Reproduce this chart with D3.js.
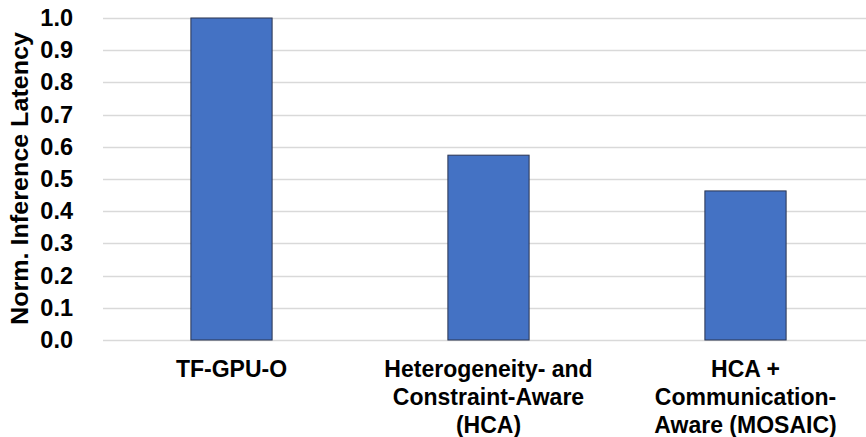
<!DOCTYPE html>
<html>
<head>
<meta charset="utf-8">
<script src="https://cdn.jsdelivr.net/npm/d3@7"></script>
<style>
  html, body { margin: 0; padding: 0; background: #ffffff; }
  svg { display: block; font-family: "Liberation Sans", Arial, sans-serif; }
</style>
</head>
<body>
<svg id="chart" width="866" height="437"></svg>
<script>
// Approach labels (each entry is a list of wrapped lines)
const categories = [
  ["TF-GPU-O"],
  ["Heterogeneity- and", "Constraint-Aware", "(HCA)"],
  ["HCA +", "Communication-", "Aware (MOSAIC)"]
];
const categoryKeys = ["TF-GPU-O", "HCA", "MOSAIC"];
// Normalized inference latency per approach
const latency = [1.0, 0.574, 0.463];
const yTicks = [0, 0.1, 0.2, 0.3, 0.4, 0.5, 0.6, 0.7, 0.8, 0.9, 1.0];
const yTitle = "Norm. Inference Latency";

const svg = d3.select("#chart");
const plot = { left: 103, right: 874, top: 18, bottom: 340 };

const x = d3.scaleBand().domain(categoryKeys).range([plot.left, plot.right]).padding(0);
const y = d3.scaleLinear().domain([0, 1]).range([plot.bottom, plot.top]);
const barW = x.bandwidth() * 0.316;

// Horizontal gridlines
svg.append("g")
  .selectAll("line")
  .data(yTicks)
  .join("line")
  .attr("x1", plot.left)
  .attr("x2", 866)
  .attr("y1", d => Math.round(y(d)) + 0.5)
  .attr("y2", d => Math.round(y(d)) + 0.5)
  .attr("stroke", "#d9d9d9")
  .attr("stroke-width", 1.3);

// Y axis tick labels
const yAxis = svg.append("g")
  .attr("transform", `translate(${plot.left},0)`)
  .call(d3.axisLeft(y).tickValues(yTicks).tickFormat(d3.format(".1f")).tickSize(0).tickPadding(30));
yAxis.select(".domain").remove();
yAxis.selectAll("text")
  .attr("font-family", "Liberation Sans, Arial, sans-serif")
  .attr("font-size", 23.5)
  .attr("font-weight", "bold")
  .attr("fill", "#000");

// Bars
svg.append("g")
  .selectAll("rect")
  .data(latency)
  .join("rect")
  .attr("x", (d, i) => x(categoryKeys[i]) + x.bandwidth() / 2 - barW / 2)
  .attr("y", d => y(d))
  .attr("width", barW)
  .attr("height", d => y(0) - y(d))
  .attr("fill", "#4472c4")
  .attr("stroke", "#2b3550")
  .attr("stroke-width", 1);

// Category labels
const xl = svg.append("g");
categories.forEach((lines, i) => {
  const t = xl.append("text")
    .attr("x", x(categoryKeys[i]) + x.bandwidth() / 2)
    .attr("y", 377)
    .attr("text-anchor", "middle")
    .attr("font-size", 23)
    .attr("font-weight", "bold")
    .attr("fill", "#000");
  lines.forEach((ln, j) => {
    t.append("tspan")
      .attr("x", x(categoryKeys[i]) + x.bandwidth() / 2)
      .attr("dy", j === 0 ? 0 : 27.8)
      .text(ln);
  });
});

// Y axis title
svg.append("text")
  .attr("transform", `translate(28,178.5) rotate(-90)`)
  .attr("text-anchor", "middle")
  .attr("font-size", 23)
  .attr("font-weight", "bold")
  .attr("fill", "#000")
  .attr("textLength", 293)
  .attr("lengthAdjust", "spacingAndGlyphs")
  .text(yTitle);
</script>
</body>
</html>
